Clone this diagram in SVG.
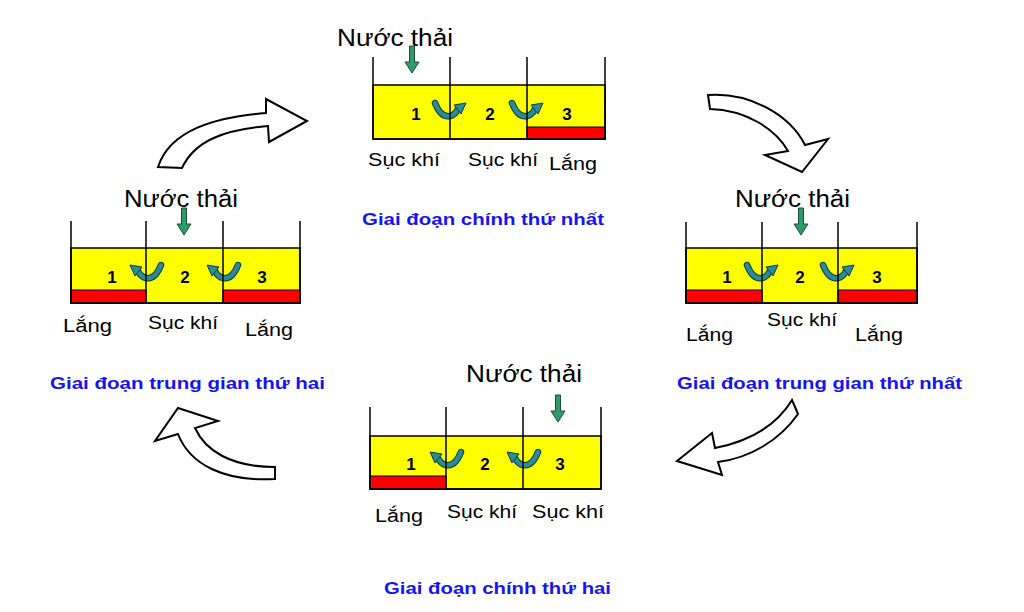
<svg xmlns="http://www.w3.org/2000/svg" xmlns:xlink="http://www.w3.org/1999/xlink" width="1024" height="612" viewBox="0 0 1024 612">
<style>
.bg{fill:#ffffff}
.liq{fill:#ffff00;stroke:#000;stroke-width:1.5}
.sludge{fill:#ff0000;stroke:#000;stroke-width:1}
.wall{stroke:#000;stroke-width:1.5;fill:none}
.big{font-family:"Liberation Sans",Arial,sans-serif;font-size:23px;fill:#000}
.lbl{font-family:"Liberation Sans",Arial,sans-serif;font-size:18px;fill:#000}
.num{font-family:"Liberation Sans",Arial,sans-serif;font-size:17px;font-weight:bold;fill:#000;text-anchor:middle}
.ttl{font-family:"Liberation Sans",Arial,sans-serif;font-size:16px;font-weight:bold;fill:#1515ee}
.hollow{fill:#ffffff;stroke:#000;stroke-width:2;stroke-linejoin:miter}
</style>
<defs>
<g id="flow">
<path d="M-15,-7 Q-9,8 0,6 Q5,5 8,-1" fill="none" stroke="#0d3d40" stroke-width="6.5" stroke-linecap="round"/>
<path d="M-15,-7 Q-9,8 0,6 Q5,5 8,-1" fill="none" stroke="#2a8c94" stroke-width="4.5" stroke-linecap="round"/>
<polygon points="4,-5 16,-7 11,4" fill="#2a8c94" stroke="#0d3d40" stroke-width="1"/>
</g>
<polygon id="inflow" points="-2.5,0 2.5,0 2.5,16 7,16 0,27 -7,16 -2.5,16" fill="#2f9a6a" stroke="#1d4d3a" stroke-width="1"/>
</defs>
<rect class="bg" x="0" y="0" width="1024" height="612"/>

<g id="connectors">
<path class="hollow" d="M158,167 C170,130 215,117 266,113 L266,99 L307,121 L269,142 L268,126 C225,130 195,140 182,168 Z"/>
<path class="hollow" d="M708,95 C750,92 790,115 805,145 L828,139 L802,172 L765,155 L788,151 C775,128 745,110 710,109 Z"/>
<path class="hollow" d="M677,461 L712,433 L715,448 C745,442 775,428 792,400 L798,414 C780,440 750,458 718,462 L722,475 Z"/>
<path class="hollow" d="M178,408 L218,421 L195,428 C205,450 230,467 275,467 L275,479 C225,482 190,465 178,434 L155,441 Z"/>
</g>

<g id="stage-main-1">
<rect class="liq" x="373" y="85" width="232" height="54"/>
<rect class="sludge" x="527" y="127" width="78" height="12"/>
<use xlink:href="#flow" href="#flow" x="450" y="110"/>
<use xlink:href="#flow" href="#flow" x="527" y="110"/>
<path class="wall" d="M373,57 V139 H605 V57 M450,57 V139 M527,57 V139"/>
<text class="num" x="416" y="120">1</text>
<text class="num" x="490" y="120">2</text>
<text class="num" x="567" y="120">3</text>
<text class="big" x="337" y="46" textLength="116" lengthAdjust="spacingAndGlyphs">Nước thải</text>
<use xlink:href="#inflow" href="#inflow" x="412" y="46"/>
<text class="lbl" x="368" y="166" textLength="72" lengthAdjust="spacingAndGlyphs">Sục khí</text>
<text class="lbl" x="468" y="166" textLength="70" lengthAdjust="spacingAndGlyphs">Sục khí</text>
<text class="lbl" x="549" y="170" textLength="48" lengthAdjust="spacingAndGlyphs">Lắng</text>
<text class="ttl" x="362" y="225" textLength="242" lengthAdjust="spacingAndGlyphs">Giai đoạn chính thứ nhất</text>
</g>

<g id="stage-inter-2">
<rect class="liq" x="71" y="248" width="229" height="55"/>
<rect class="sludge" x="71" y="290" width="75" height="13"/>
<rect class="sludge" x="223" y="290" width="77" height="13"/>
<use xlink:href="#flow" href="#flow" transform="translate(146,272) scale(-1,1)"/>
<use xlink:href="#flow" href="#flow" transform="translate(223,272) scale(-1,1)"/>
<path class="wall" d="M71,221 V303 H300 V221 M146,221 V303 M223,221 V303"/>
<text class="num" x="112" y="283">1</text>
<text class="num" x="185" y="283">2</text>
<text class="num" x="262" y="283">3</text>
<text class="big" x="124" y="207" textLength="114" lengthAdjust="spacingAndGlyphs">Nước thải</text>
<use xlink:href="#inflow" href="#inflow" x="184" y="208"/>
<text class="lbl" x="63" y="332" textLength="49" lengthAdjust="spacingAndGlyphs">Lắng</text>
<text class="lbl" x="148" y="329" textLength="70" lengthAdjust="spacingAndGlyphs">Sục khí</text>
<text class="lbl" x="245" y="336" textLength="48" lengthAdjust="spacingAndGlyphs">Lắng</text>
<text class="ttl" x="50" y="389" textLength="275" lengthAdjust="spacingAndGlyphs">Giai đoạn trung gian thứ hai</text>
</g>

<g id="stage-inter-1">
<rect class="liq" x="686" y="248" width="231" height="55"/>
<rect class="sludge" x="686" y="290" width="76" height="13"/>
<rect class="sludge" x="838" y="290" width="79" height="13"/>
<use xlink:href="#flow" href="#flow" x="762" y="272"/>
<use xlink:href="#flow" href="#flow" x="838" y="272"/>
<path class="wall" d="M686,222 V303 H917 V222 M762,222 V303 M838,222 V303"/>
<text class="num" x="727" y="283">1</text>
<text class="num" x="800" y="283">2</text>
<text class="num" x="877" y="283">3</text>
<text class="big" x="735" y="207" textLength="115" lengthAdjust="spacingAndGlyphs">Nước thải</text>
<use xlink:href="#inflow" href="#inflow" x="801" y="208"/>
<text class="lbl" x="767" y="326" textLength="70" lengthAdjust="spacingAndGlyphs">Sục khí</text>
<text class="lbl" x="686" y="341" textLength="47" lengthAdjust="spacingAndGlyphs">Lắng</text>
<text class="lbl" x="855" y="341" textLength="48" lengthAdjust="spacingAndGlyphs">Lắng</text>
<text class="ttl" x="677" y="389" textLength="285" lengthAdjust="spacingAndGlyphs">Giai đoạn trung gian thứ nhất</text>
</g>

<g id="stage-main-2">
<rect class="liq" x="370" y="436" width="231" height="53"/>
<rect class="sludge" x="370" y="476" width="76" height="13"/>
<use xlink:href="#flow" href="#flow" transform="translate(446,459) scale(-1,1)"/>
<use xlink:href="#flow" href="#flow" transform="translate(523,459) scale(-1,1)"/>
<path class="wall" d="M370,407 V489 H601 V407 M446,407 V489 M523,407 V489"/>
<text class="num" x="411" y="470">1</text>
<text class="num" x="485" y="470">2</text>
<text class="num" x="560" y="470">3</text>
<text class="big" x="466" y="382" textLength="116" lengthAdjust="spacingAndGlyphs">Nước thải</text>
<use xlink:href="#inflow" href="#inflow" x="558" y="395"/>
<text class="lbl" x="375" y="522" textLength="48" lengthAdjust="spacingAndGlyphs">Lắng</text>
<text class="lbl" x="447" y="518" textLength="70" lengthAdjust="spacingAndGlyphs">Sục khí</text>
<text class="lbl" x="532" y="518" textLength="72" lengthAdjust="spacingAndGlyphs">Sục khí</text>
<text class="ttl" x="384" y="594" textLength="227" lengthAdjust="spacingAndGlyphs">Giai đoạn chính thứ hai</text>
</g>
</svg>
